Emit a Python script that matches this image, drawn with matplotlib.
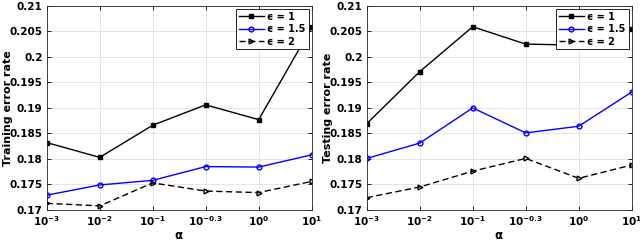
import matplotlib
matplotlib.use("Agg")
import matplotlib.pyplot as plt

# alpha values (plotted at equal spacing)
alpha_labels = [r'$\mathbf{10^{-3}}$', r'$\mathbf{10^{-2}}$', r'$\mathbf{10^{-1}}$',
                r'$\mathbf{10^{-0.3}}$', r'$\mathbf{10^{0}}$', r'$\mathbf{10^{1}}$']
xpos = [0, 1, 2, 3, 4, 5]

train_eps1 = [0.1832, 0.1803, 0.1866, 0.1906, 0.1877, 0.2058]
train_eps15 = [0.1729, 0.1749, 0.1758, 0.1785, 0.1784, 0.1808]
train_eps2 = [0.1713, 0.1708, 0.1753, 0.1737, 0.1734, 0.1756]

test_eps1 = [0.1869, 0.1971, 0.2059, 0.2025, 0.2023, 0.2055]
test_eps15 = [0.1801, 0.1831, 0.1900, 0.1851, 0.1864, 0.1931]
test_eps2 = [0.1724, 0.1745, 0.1776, 0.1801, 0.1762, 0.1788]

yticks = [0.17, 0.175, 0.18, 0.185, 0.19, 0.195, 0.2, 0.205, 0.21]
ytick_labels = ['0.17', '0.175', '0.18', '0.185', '0.19', '0.195', '0.2', '0.205', '0.21']

plt.rcParams['font.family'] = 'DejaVu Sans'
plt.rcParams['font.weight'] = 'bold'
plt.rcParams['font.size'] = 7.5

fig = plt.figure(figsize=(6.4, 2.43), dpi=100)
ax1 = fig.add_axes([0.073, 0.136, 0.414, 0.84])
ax2 = fig.add_axes([0.573, 0.136, 0.414, 0.84])

panels = [(ax1, train_eps1, train_eps15, train_eps2, 'Training error rate'),
          (ax2, test_eps1, test_eps15, test_eps2, 'Testing error rate')]

for ax, e1, e15, e2, ylab in panels:
    ax.plot(xpos, e1, '-s', color='black', lw=1.0, ms=2.5, mfc='black',
            label='\u03f5 = 1')
    ax.plot(xpos, e15, '-o', color='blue', lw=1.0, ms=3.5, mfc='none',
            label='\u03f5 = 1.5')
    ax.plot(xpos, e2, '--', marker='>', color='black', lw=1.0, ms=3.5, mfc='none',
            dashes=(4.5, 2.5), label='\u03f5 = 2')
    ax.set_xlim(0, 5)
    ax.set_ylim(0.17, 0.21)
    ax.set_xticks(xpos)
    ax.set_xticklabels(alpha_labels)
    ax.set_yticks(yticks)
    ax.set_yticklabels(ytick_labels)
    ax.set_xlabel(r'$\mathbf{\alpha}$', fontsize=8.5, labelpad=1)
    ax.set_ylabel(ylab, fontweight='bold', fontsize=8)
    ax.yaxis.set_label_coords(-0.128, 0.5)
    ax.grid(True, color='#e0e0e0', lw=0.6)
    ax.set_axisbelow(True)
    ax.tick_params(direction='in', length=3, width=0.6, pad=3, top=True, right=True)
    for s in ax.spines.values():
        s.set_linewidth(0.6)
        s.set_color('#262626')
    leg = ax.legend(loc='upper right', fontsize=7, fancybox=False, edgecolor='black',
                    framealpha=1, borderpad=0.3, labelspacing=0.25, handlelength=2.5,
                    handletextpad=0.4, borderaxespad=0.3)
    leg.get_frame().set_linewidth(0.6)

plt.savefig("out.png", dpi=100)
plt.close(fig)
